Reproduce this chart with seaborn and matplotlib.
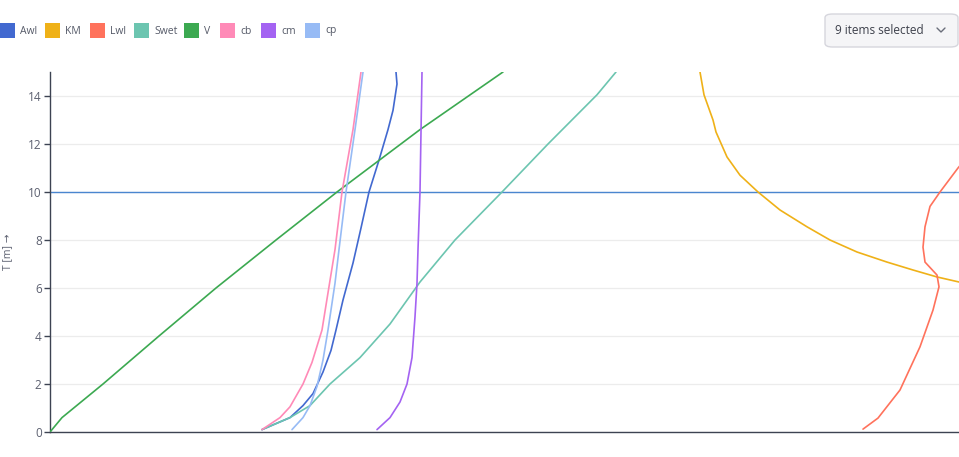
import pandas as pd
import seaborn as sns
import matplotlib.pyplot as plt
from matplotlib.patches import Rectangle, FancyBboxPatch
from matplotlib.lines import Line2D

# series names and colours
names = ['Awl', 'KM', 'Lwl', 'Swet', 'V', 'cb', 'cm', 'cp']
colors = ['#4269d0', '#efb118', '#ff725c', '#6cc5b0', '#3ca951', '#ff8ab7', '#a463f2', '#97bbf5']

# values (x in chart units, T in m)
awl_x = [212, 240, 253, 263, 273, 281, 286, 293, 303, 311, 319, 329, 338, 343, 347, 346]
awl_t = [0.1, 0.6, 1.1, 1.6, 2.5, 3.4, 4.25, 5.5, 7.04, 8.5, 10, 11.33, 12.6, 13.4, 14.5, 15]
km_x = [650, 654, 663, 666, 677, 690, 708, 730, 757, 780, 807, 837, 863, 887, 909, 935]
km_t = [15, 14.05, 13, 12.5, 11.46, 10.7, 10, 9.25, 8.55, 8, 7.5, 7.08, 6.75, 6.46, 6.25, 6.0]
lwl_x = [813, 828, 850, 870, 883, 889, 887, 875, 873, 875, 880, 890, 908, 918]
lwl_t = [0.12, 0.58, 1.75, 3.55, 5.08, 6.05, 6.54, 7.08, 7.7, 8.55, 9.4, 10, 11, 11.5]
swet_x = [212, 240, 260, 280, 310, 340, 370, 380, 405, 452, 498, 547, 566]
swet_t = [0.1, 0.6, 1.1, 2, 3.1, 4.5, 6.25, 6.75, 8, 10, 12, 14.05, 15]
v_x = [0, 12, 53, 109, 166, 226, 287, 370, 453]
v_t = [0, 0.6, 2, 4, 6, 8, 10, 12.6, 15]
cb_x = [212, 230, 240, 253, 262, 272, 278, 285, 292, 303, 311]
cb_t = [0.1, 0.6, 1.05, 2, 2.9, 4.25, 5.8, 7.6, 10, 12.6, 15]
cm_x = [327, 340, 350, 357, 362, 365, 367, 368, 370, 372]
cm_t = [0.1, 0.6, 1.25, 2, 3.1, 4.8, 6.2, 7.6, 10, 15]
cp_x = [242, 253, 260, 267, 273, 278, 285, 289, 296, 305, 313]
cp_t = [0.1, 0.6, 1.1, 1.9, 3, 4.25, 6.2, 7.6, 10, 12.6, 15]
t_ref = 10

series = {
    'Awl': (awl_x, awl_t), 'KM': (km_x, km_t), 'Lwl': (lwl_x, lwl_t),
    'Swet': (swet_x, swet_t), 'V': (v_x, v_t), 'cb': (cb_x, cb_t),
    'cm': (cm_x, cm_t), 'cp': (cp_x, cp_t),
}
rows = []
for name, (xs, ts) in series.items():
    for x, t in zip(xs, ts):
        rows.append({'series': name, 'x': x, 'T': t})
df = pd.DataFrame(rows)

sns.set_style('white')
plt.rcParams['font.family'] = ['Open Sans', 'DejaVu Sans']

W, H = 959, 457
fig = plt.figure(figsize=(W / 100, H / 100), dpi=100)
ax = fig.add_axes([50 / W, (H - 432) / H, 909 / W, 360 / H])

ax.axhline(t_ref, color='#4a86cf', lw=1.0, zorder=1)
sns.lineplot(data=df, x='x', y='T', hue='series', units='series', estimator=None,
             sort=False, palette=dict(zip(names, colors)), lw=1.2, ax=ax,
             legend=False, zorder=3)

ax.set_xlim(0, 909)
ax.set_ylim(0, 15)
ax.set_yticks(range(0, 15, 2))
ax.set_xticks([])
ax.set_xlabel('')
ax.set_ylabel('')
ax.yaxis.grid(True, color='#ececec', lw=0.9)
ax.set_axisbelow(True)
for s in ['top', 'right']:
    ax.spines[s].set_visible(False)
for s in ['left', 'bottom']:
    ax.spines[s].set_color('#3d4352')
    ax.spines[s].set_linewidth(1.0)
ax.tick_params(axis='y', length=4, width=1, color='#3d4352', labelcolor='#5c6070',
               labelsize=8.5, pad=2, left=True)

fig.text(8 / W, 1 - 252 / H, 'T [m] →', rotation=90, ha='center', va='center',
         fontsize=7.5, color='#5c6070')

# legend swatches along the top
sq_x = [0, 45, 90, 134, 184, 220, 261, 305]
tx_x = [20, 65, 110, 154, 204, 240, 281, 325]
for name, c, sx, tx in zip(names, colors, sq_x, tx_x):
    fig.add_artist(Rectangle((sx / W, 1 - 38 / H), 15 / W, 15 / H,
                             transform=fig.transFigure, color=c, lw=0))
    fig.text(tx / W, 1 - 31 / H, name, ha='left', va='center', fontsize=7.5,
             color='#555a68')

# dropdown box
fig.add_artist(FancyBboxPatch((825 / W, 1 - 47 / H), 133 / W, 33 / H,
                              boxstyle='round,pad=0,rounding_size=0.008',
                              transform=fig.transFigure, facecolor='#f5f5f7',
                              edgecolor='#d6d6dd', lw=1))
fig.text(835 / W, 1 - 31 / H, '9 items selected', ha='left', va='center',
         fontsize=8.5, color='#3c3f4a')
fig.add_artist(Line2D([937 / W, 941 / W, 945 / W], [1 - 28 / H, 1 - 32 / H, 1 - 28 / H],
                      transform=fig.transFigure, color='#6a6e7a', lw=1))

fig.savefig('out.png', dpi=100)
